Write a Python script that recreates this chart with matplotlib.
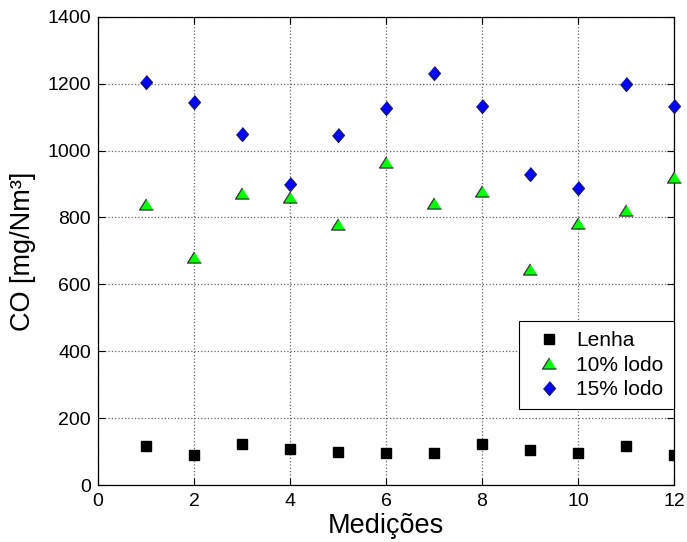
import matplotlib
matplotlib.use("Agg")
import matplotlib.pyplot as plt

medicoes = [1, 2, 3, 4, 5, 6, 7, 8, 9, 10, 11, 12]
lenha = [116, 89, 122, 107, 99, 96, 96, 123, 104, 96, 116, 90]
lodo10 = [839, 682, 874, 862, 782, 965, 843, 880, 646, 784, 821, 921]
lodo15 = [1206, 1146, 1050, 900, 1047, 1128, 1233, 1134, 930, 889, 1198, 1134]

xticks = [0, 2, 4, 6, 8, 10, 12]
yticks = [0, 200, 400, 600, 800, 1000, 1200, 1400]

plt.rcParams['font.family'] = ['Liberation Sans', 'DejaVu Sans']

fig = plt.figure(figsize=(6.87, 5.42), dpi=100)
ax = fig.add_axes([0.1426, 0.105, 0.981 - 0.1426, 0.969 - 0.105])

tri = [(0, 0.8), (-1, -0.8), (1, -0.8)]
dia = [(0, 1), (0.86, 0), (0, -1), (-0.86, 0)]

ax.plot(medicoes, lenha, linestyle='none', marker='s', markersize=7.5,
        markerfacecolor='black', markeredgecolor='black', label='Lenha', zorder=3)
ax.plot(medicoes, lodo10, linestyle='none', marker=tri, markersize=10,
        markerfacecolor='#00ff00', markeredgecolor='#333333', markeredgewidth=0.9,
        label='10% lodo', zorder=3, clip_on=False)
ax.plot(medicoes, lodo15, linestyle='none', marker=dia, markersize=10,
        markerfacecolor='#0000ff', markeredgecolor='#1a1a4d', markeredgewidth=0.9,
        label='15% lodo', zorder=3, clip_on=False)

ax.set_xlim(0, 12)
ax.set_ylim(0, 1400)
ax.set_xticks(xticks)
ax.set_yticks(yticks)
ax.tick_params(direction='in', top=True, right=True, labelsize=14, length=5, width=0.8)
ax.tick_params(axis='x', pad=6)
ax.tick_params(axis='y', pad=5)
ax.grid(True, linestyle=':', color='0.4', linewidth=0.9)
ax.set_axisbelow(True)
for s in ax.spines.values():
    s.set_linewidth(0.9)

ax.set_xlabel('Medições', fontsize=19.5, labelpad=1.5)
ax.set_ylabel('CO [mg/Nm³]', fontsize=19.5)
ax.yaxis.set_label_coords(-0.108, 0.5)

leg = ax.legend(loc='lower right', bbox_to_anchor=(1.0, 0.162), fontsize=15,
                fancybox=False, framealpha=1, edgecolor='black',
                handletextpad=0.39, borderpad=0.5, labelspacing=0.25,
                handlelength=1.85, borderaxespad=0)
leg.get_frame().set_linewidth(0.8)

fig.savefig('out.png', dpi=100)
